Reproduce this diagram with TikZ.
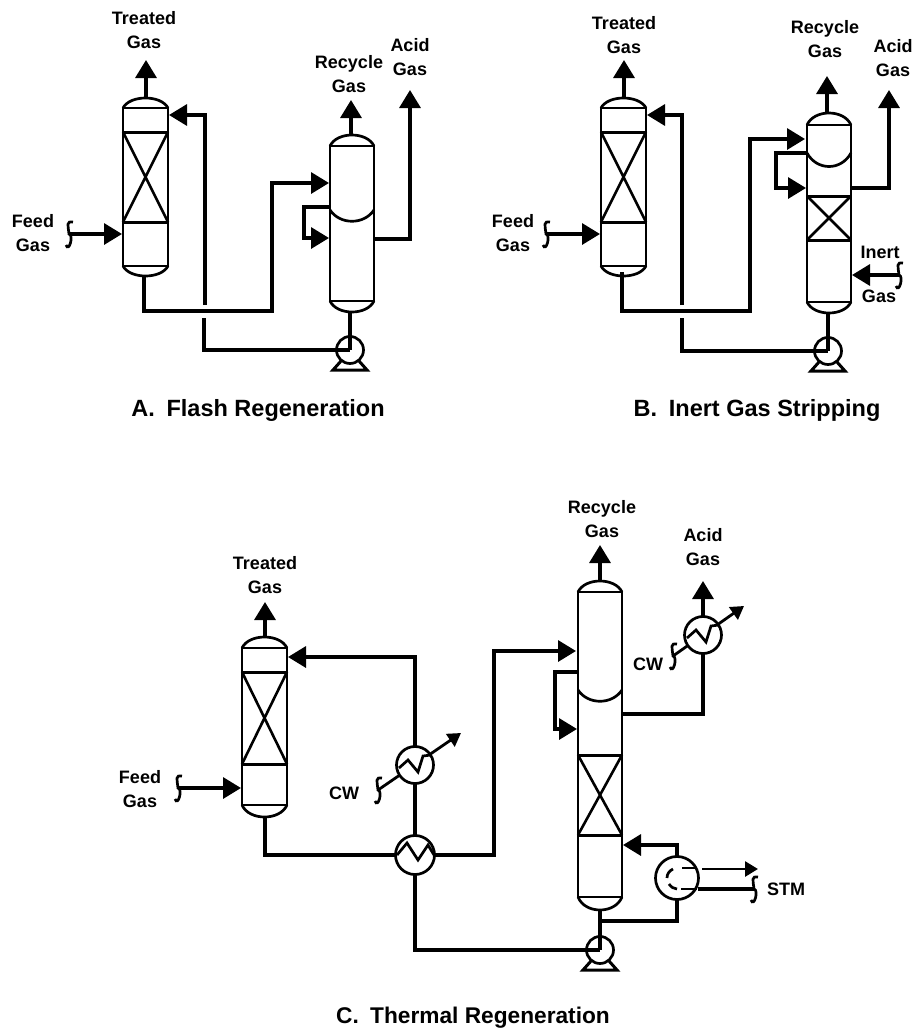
\documentclass[tikz,border=0pt]{standalone}
\usepackage{fontspec}
\setmainfont{Liberation Sans}
\usetikzlibrary{arrows.meta}
\tikzset{
  pipe/.style={line width=3.3pt,line join=miter,line cap=butt},
  flow/.style={pipe,-{Triangle[length=18pt,width=21pt]}},
  smallflow/.style={line width=2.8pt,-{Triangle[length=13pt,width=15pt]}},
  shell/.style={line width=2.7pt},
  tray/.style={line width=3pt},
  crossline/.style={line width=2.6pt},
  vesselbox/.style={draw,line width=2.7pt,inner sep=0pt,outer sep=0pt,rectangle},
  roundunit/.style={draw,circle,line width=2.7pt,inner sep=0pt,outer sep=0pt,fill=white},
  lbl/.style={font=\bfseries\fontsize{18}{23.5}\selectfont,align=center,inner sep=0pt},
  ttl/.style={font=\bfseries\fontsize{23.5}{26}\selectfont,inner sep=0pt},
  squig/.style={line width=2.7pt},
}
% name, x left, x right, y top tangent, y bottom tangent, top head, bottom head
\newcommand{\vessel}[7]{%
  \pgfmathsetmacro{\vw}{#3-#2}\pgfmathsetmacro{\vh}{#5-#4}%
  \pgfmathsetmacro{\vcx}{(#2+#3)/2}\pgfmathsetmacro{\vcy}{(#4+#5)/2}%
  \node[vesselbox,minimum width=\vw pt,minimum height=\vh pt] (#1) at (\vcx,\vcy) {};
  \pgfmathsetmacro{\vht}{#6/0.75}\pgfmathsetmacro{\vhb}{#7/0.75}%
  \draw[shell] (#1.north west) .. controls ++(7,-\vht) and ++(-7,-\vht) .. (#1.north east);
  \draw[shell] (#1.south west) .. controls ++(7,\vhb) and ++(-7,\vhb) .. (#1.south east);
}
% vertical S-shaped mark on a free line end
\newcommand{\smark}[1]{%
  \draw[squig] ([shift={(4,-12)}]#1) .. controls ++(-7,-1) and ++(-1,-9) .. (#1)
    .. controls ++(5,1) and ++(3,8) .. ([shift={(-3,11)}]#1);
}
% pump with base
\newcommand{\pump}[3]{%
  \node[roundunit,minimum size=27pt,fill=none] (#1) at (#2,#3) {};
  \draw[line width=3pt,line join=miter] ([shift={(-9,11)}]#1.center) -- ([shift={(-17,20)}]#1.center)
    -- ([shift={(17,20)}]#1.center) -- ([shift={(9,11)}]#1.center);
}
\begin{document}
\begin{tikzpicture}[x=1pt,y=-1pt]
\useasboundingbox (0,0) rectangle (919,1034);

%% ===== Panel A =====
\vessel{Aabs}{123}{168}{108}{266}{10}{10}
\draw[tray] (123,132) -- (168,132) (123,222) -- (168,222);
\draw[crossline] (123,222) -- (168,132) (123,132) -- (168,222);
\vessel{Aflash}{330}{374}{146}{301}{11}{11}
\draw[shell] (330,210) .. controls (340,225) and (364,225) .. (374,210);
\pump{Apump}{350}{350}
\coordinate (AtopAbs) at (146,98);
\coordinate (AbotAbs) at (144,276);
\coordinate (AtopFl) at (351,135);
\coordinate (AbotFl) at (350,312);
\coordinate (Atr) at (146,60);
\coordinate (Arc) at (351,100);
\coordinate (Aac) at (410,90);
\coordinate (Ain1) at (169,115);
\coordinate (Afd) at (69,234);
\coordinate (Afe) at (122,234);
\coordinate (Ag1) at (205,305);
\coordinate (Ag2) at (204,318);
\coordinate (Ari) at (329,183);
\coordinate (Alo) at (330,207);
\coordinate (Ali) at (329,238);
\coordinate (Aou) at (374,239);
\draw[flow] (AtopAbs) -- (Atr);
\draw[flow] (AtopFl) -- (Arc);
\draw[flow] (Aou) -| (Aac);
\draw[flow] (Afd) -- (Afe);
\smark{Afd}
\draw[flow] (Ag1) |- (Ain1);
\draw[pipe] (Ag2) |- (Apump.center);
\draw[pipe] (AbotFl) -- (Apump.center);
\draw[flow] (AbotAbs) |- (272,311) |- (Ari);
\draw[flow] (Alo) -| (304,238) -- (Ali);
\node[lbl] (Alt) at (144,30) {Treated\\Gas};
\node[lbl] (Alr) at (349,74) {Recycle\\Gas};
\node[lbl] (Ala) at (410,57) {Acid\\Gas};
\node[lbl] (Alf) at (33,233) {Feed\\Gas};
\node[ttl] (Att) at (258,410) {A.\hspace{0.5em}Flash Regeneration};

%% ===== Panel B =====
\vessel{Babs}{601}{646}{108}{266}{10}{10}
\draw[tray] (601,132) -- (646,132) (601,222) -- (646,222);
\draw[crossline] (601,222) -- (646,132) (601,132) -- (646,222);
\vessel{Bstr}{807}{851}{125}{302}{12}{11}
\draw[shell] (807,153) .. controls (817,171) and (841,171) .. (851,153);
\draw[tray] (807,196) -- (851,196) (807,240) -- (851,240);
\draw[crossline] (807,240) -- (851,196) (807,196) -- (851,240);
\pump{Bpump}{828}{351}
\coordinate (BtopAbs) at (624,98);
\coordinate (BbotAbs) at (622,272);
\coordinate (BtopSt) at (827,113);
\coordinate (BbotSt) at (828,313);
\coordinate (Btr) at (624,60);
\coordinate (Brc) at (827,76);
\coordinate (Bac) at (889,90);
\coordinate (Bin1) at (647,115);
\coordinate (Bfd) at (546,234);
\coordinate (Bfe) at (600,234);
\coordinate (Bg1) at (682,305);
\coordinate (Bg2) at (682,318);
\coordinate (Bri) at (805,139);
\coordinate (Blo) at (807,153);
\coordinate (Bli) at (806,188);
\coordinate (Bou) at (851,188);
\coordinate (Bie) at (899,275);
\coordinate (Bii) at (852,275);
\draw[flow] (BtopAbs) -- (Btr);
\draw[flow] (BtopSt) -- (Brc);
\draw[flow] (Bou) -| (Bac);
\draw[flow] (Bfd) -- (Bfe);
\smark{Bfd}
\draw[flow] (Bie) -- (Bii);
\smark{Bie}
\draw[flow] (Bg1) |- (Bin1);
\draw[pipe] (Bg2) |- (Bpump.center);
\draw[pipe] (BbotSt) -- (Bpump.center);
\draw[flow] (BbotAbs) |- (750,311) |- (Bri);
\draw[flow] (Blo) -| (776,188) -- (Bli);
\node[lbl] (Blt) at (624,35) {Treated\\Gas};
\node[lbl] (Blr) at (825,39) {Recycle\\Gas};
\node[lbl] (Bla) at (893,58) {Acid\\Gas};
\node[lbl] (Blf) at (513,233) {Feed\\Gas};
\node[lbl] (Bli1) at (880,252) {Inert};
\node[lbl] (Bli2) at (879,296) {Gas};
\node[ttl] (Btt) at (757,410) {B.\hspace{0.5em}Inert Gas Stripping};

%% ===== Panel C =====
\vessel{Cabs}{242}{287}{648}{805}{11}{12}
\draw[tray] (242,672) -- (287,672) (242,764) -- (287,764);
\draw[crossline] (242,764) -- (287,672) (242,672) -- (287,764);
\vessel{Creg}{578}{622}{592}{897}{11}{13}
\draw[shell] (578,690) .. controls (588,705) and (612,705) .. (622,690);
\draw[tray] (578,755) -- (622,755) (578,835) -- (622,835);
\draw[crossline] (578,835) -- (622,755) (578,755) -- (622,835);
\pump{Cpump}{600}{950}
% cooling-water lines pass behind the round units
\coordinate (Ccw) at (378,790);
\coordinate (Ccwo) at (461,733);
\draw[smallflow] (Ccw) -- (Ccwo);
\smark{Ccw}
\coordinate (Cacw) at (673,656);
\coordinate (Cacwo) at (744,606);
\draw[smallflow] (Cacw) -- (Cacwo);
\smark{Cacw}
\node[roundunit,minimum size=37pt] (Ccool) at (415,765) {};
\node[roundunit,minimum size=39pt] (Cxch) at (415,855) {};
\node[roundunit,minimum size=37pt] (Cacool) at (703,635) {};
\node[roundunit,minimum size=43pt] (Creb) at (677,878) {};
\coordinate (CtopAbs) at (265,637);
\coordinate (CbotAbs) at (265,817);
\coordinate (CtopRe) at (600,581);
\coordinate (CbotRe) at (600,910);
\coordinate (Ctr) at (265,602);
\coordinate (Crc) at (600,545);
\coordinate (Cac) at (703,581);
\coordinate (Cin1) at (288,657);
\coordinate (Cfd) at (178,788);
\coordinate (Cfe) at (241,788);
\coordinate (Cri) at (576,651);
\coordinate (Clo) at (578,672);
\coordinate (Cli) at (577,729);
\coordinate (Cou) at (622,714);
\coordinate (Cri2) at (623,845);
\coordinate (Cj) at (600,921);
\draw[flow] (CtopAbs) -- (Ctr);
\draw[flow] (CtopRe) -- (Crc);
\draw[flow] (Cacool.north) -- (Cac);
\draw[flow] (Cfd) -- (Cfe);
\smark{Cfd}
\draw[flow] (Ccool.north) |- (Cin1);
\draw[pipe] (Ccool.south) -- (Cxch.north);
\draw[pipe] (Cxch.south) |- (Cpump.center);
\draw[pipe] (CbotRe) -- (Cpump.center);
\draw[pipe] (CbotAbs) |- (Cxch.west);
\draw[flow] (Cxch.east) -| (494,651) -- (Cri);
\draw[flow] (Clo) -| (555,729) -- (Cli);
\draw[pipe] (Cou) -| (Cacool.south);
\draw[flow] (Creb.north) |- (Cri2);
\draw[pipe] (Creb.south) |- (Cj);
% zigzag tube bundles
\draw[shell,line join=miter] (399,768) -- (408,760) -- (418,772) -- (423,756) -- (431,755);
\draw[shell,line join=miter] (687,638) -- (696,630) -- (706,642) -- (711,626) -- (719,625);
\draw[shell,line join=miter] (397,855) -- (407,843) -- (418,860) -- (428,845) -- (434,855);
% reboiler tube and steam lines
\draw[shell] (695,868) -- (682,868);
\draw[shell] (673,869) .. controls (669,871) and (667,874) .. (667,878);
\draw[shell] (669,884) .. controls (671,887) and (674,889) .. (677,889);
\draw[shell] (681,889) -- (697,889);
\coordinate (Cso) at (702,869);
\coordinate (Cst) at (758,869);
\coordinate (Csi) at (698,889);
\coordinate (Cse) at (754,889);
\draw[smallflow] (Cso) -- (Cst);
\draw[pipe] (Csi) -- (Cse);
\smark{Cse}
\node[lbl] (Clt) at (265,575) {Treated\\Gas};
\node[lbl] (Clr) at (602,519) {Recycle\\Gas};
\node[lbl] (Cla) at (703,547) {Acid\\Gas};
\node[lbl] (Clf) at (140,789) {Feed\\Gas};
\node[lbl] (Clc) at (344,793) {CW};
\node[lbl] (Clc2) at (648,664) {CW};
\node[lbl] (Cls) at (786,889) {STM};
\node[ttl,font=\bfseries\fontsize{22.7}{26}\selectfont] (Ctt) at (473,1018) {C.\hspace{0.5em}Thermal Regeneration};
\end{tikzpicture}
\end{document}
